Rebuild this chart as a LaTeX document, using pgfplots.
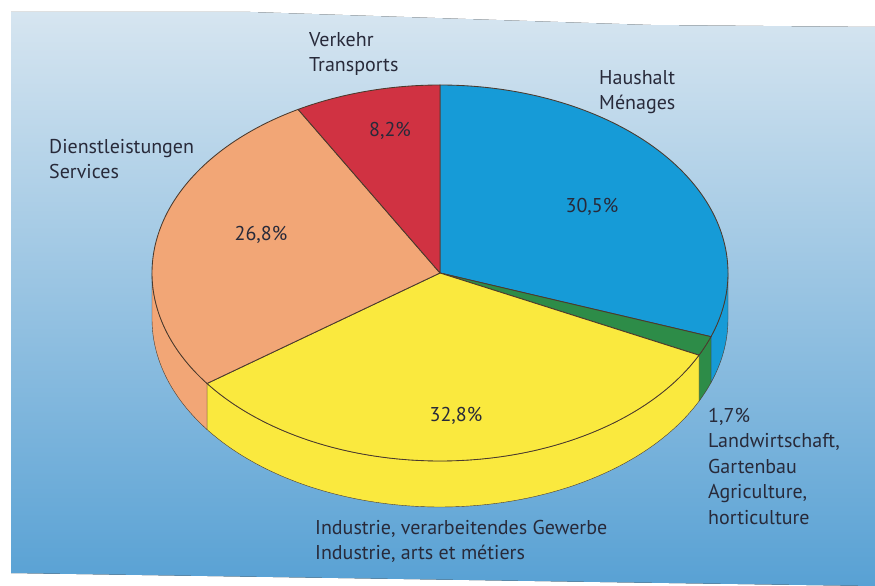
\documentclass[border=0pt]{standalone}
\usepackage{fontspec}
\setmainfont{PT Sans}
\usepackage{pgfplots}
\pgfplotsset{compat=1.18}
\usepgfplotslibrary{fillbetween}

\definecolor{bgtop}{RGB}{214,229,240}
\definecolor{bgbot}{RGB}{88,161,212}
\definecolor{cblue}{RGB}{22,155,215}
\definecolor{cgreen}{RGB}{45,140,72}
\definecolor{cyellow}{RGB}{250,233,62}
\definecolor{corange}{RGB}{242,166,118}
\definecolor{cred}{RGB}{208,50,66}
\definecolor{edge}{RGB}{75,58,45}
\definecolor{txt}{RGB}{40,42,58}

% shares in percent
\def\pHaus{30.5}
\def\pLand{1.7}
\def\pInd{32.8}
\def\pDienst{26.8}
\def\pVerk{8.2}

% geometry of the pie (axis units = pt)
\def\cx{440}
\def\cy{313}
\def\ra{288}
\def\rb{188}
\def\dep{46}

\pgfmathsetmacro\aA{90-3.6*\pHaus}
\pgfmathsetmacro\aB{\aA-3.6*\pLand}
\pgfmathsetmacro\aC{\aB-3.6*\pInd}
\pgfmathsetmacro\aD{\aC-3.6*\pDienst}
\pgfmathsetmacro\aE{\aD-3.6*\pVerk}

\newcommand\lab{\fontsize{20pt}{25.5pt}\selectfont\color{txt}}

\begin{document}
\begin{tikzpicture}
\begin{axis}[
  set layers,
  anchor=south west, at={(0pt,0pt)},
  scale only axis, width=875pt, height=586pt,
  xmin=0, xmax=875, ymin=0, ymax=586,
  axis lines=none, clip=false,
  every axis plot/.append style={line width=0.85pt, line join=round},
]
\begin{pgfonlayer}{axis background}
\fill[top color=bgtop, bottom color=bgbot] (axis cs:11,13) -- (axis cs:11,574) -- (axis cs:250,574) -- (axis cs:650,561) -- (axis cs:875,559) -- (axis cs:875,0) -- (axis cs:600,4) -- cycle;
\end{pgfonlayer}

% ---- side walls (front half only) ----
% blue: 0 .. aA
\addplot[name path=bT, draw=none, domain=\aA:0, samples=30, variable=\t] ({\cx+\ra*cos(\t)},{\cy+\rb*sin(\t)});
\addplot[name path=bB, draw=none, domain=\aA:0, samples=30, variable=\t] ({\cx+\ra*cos(\t)},{\cy-\dep+\rb*sin(\t)});
\addplot[fill=cblue, draw=edge] fill between[of=bT and bB];
% green
\addplot[name path=gT, draw=none, domain=\aB:\aA, samples=20, variable=\t] ({\cx+\ra*cos(\t)},{\cy+\rb*sin(\t)});
\addplot[name path=gB, draw=none, domain=\aB:\aA, samples=20, variable=\t] ({\cx+\ra*cos(\t)},{\cy-\dep+\rb*sin(\t)});
\addplot[fill=cgreen, draw=edge] fill between[of=gT and gB];
% yellow
\addplot[name path=yT, draw=none, domain=\aC:\aB, samples=90, variable=\t] ({\cx+\ra*cos(\t)},{\cy+\rb*sin(\t)});
\addplot[name path=yB, draw=none, domain=\aC:\aB, samples=90, variable=\t] ({\cx+\ra*cos(\t)},{\cy-\dep+\rb*sin(\t)});
\addplot[fill=cyellow, draw=edge] fill between[of=yT and yB];
% orange
\addplot[name path=oT, draw=none, domain=-180:\aC, samples=30, variable=\t] ({\cx+\ra*cos(\t)},{\cy+\rb*sin(\t)});
\addplot[name path=oB, draw=none, domain=-180:\aC, samples=30, variable=\t] ({\cx+\ra*cos(\t)},{\cy-\dep+\rb*sin(\t)});
\addplot[fill=corange, draw=edge] fill between[of=oT and oB];

% ---- top faces ----
\addplot[fill=cblue, draw=edge, domain=\aA:90, samples=90, variable=\t] ({\cx+\ra*cos(\t)},{\cy+\rb*sin(\t)}) -- (axis cs:\cx,\cy) -- cycle;
\addplot[fill=cgreen, draw=edge, domain=\aB:\aA, samples=20, variable=\t] ({\cx+\ra*cos(\t)},{\cy+\rb*sin(\t)}) -- (axis cs:\cx,\cy) -- cycle;
\addplot[fill=cyellow, draw=edge, domain=\aC:\aB, samples=90, variable=\t] ({\cx+\ra*cos(\t)},{\cy+\rb*sin(\t)}) -- (axis cs:\cx,\cy) -- cycle;
\addplot[fill=corange, draw=edge, domain=\aD:\aC, samples=80, variable=\t] ({\cx+\ra*cos(\t)},{\cy+\rb*sin(\t)}) -- (axis cs:\cx,\cy) -- cycle;
\addplot[fill=cred, draw=edge, domain=\aE:\aD, samples=30, variable=\t] ({\cx+\ra*cos(\t)},{\cy+\rb*sin(\t)}) -- (axis cs:\cx,\cy) -- cycle;

% ---- labels ----
\node[anchor=north west, align=left, inner sep=0pt, font=\lab] at (axis cs:309,554) {Verkehr\\Transports};
\node[anchor=north west, align=left, inner sep=0pt, font=\lab] at (axis cs:599,516) {Haushalt\\Ménages};
\node[anchor=north west, align=left, inner sep=0pt, font=\lab] at (axis cs:49,447) {Dienstleistungen\\Services};
\node[anchor=north west, align=left, inner sep=0pt, font=\lab] at (axis cs:708,178) {1,7\%\\Landwirtschaft,\\Gartenbau\\Agriculture,\\horticulture};
\node[anchor=north west, align=left, inner sep=0pt, font=\lab] at (axis cs:315,66) {Industrie, verarbeitendes Gewerbe\\Industrie, arts et métiers};
\node[font=\lab] at (axis cs:390,455) {8,2\%};
\node[font=\lab] at (axis cs:592,379) {30,5\%};
\node[font=\lab] at (axis cs:261,351) {26,8\%};
\node[font=\lab] at (axis cs:456,170) {32,8\%};
\end{axis}
\pgfresetboundingbox
\useasboundingbox (0pt,0pt) rectangle (875pt,586pt);
\end{tikzpicture}
\end{document}
